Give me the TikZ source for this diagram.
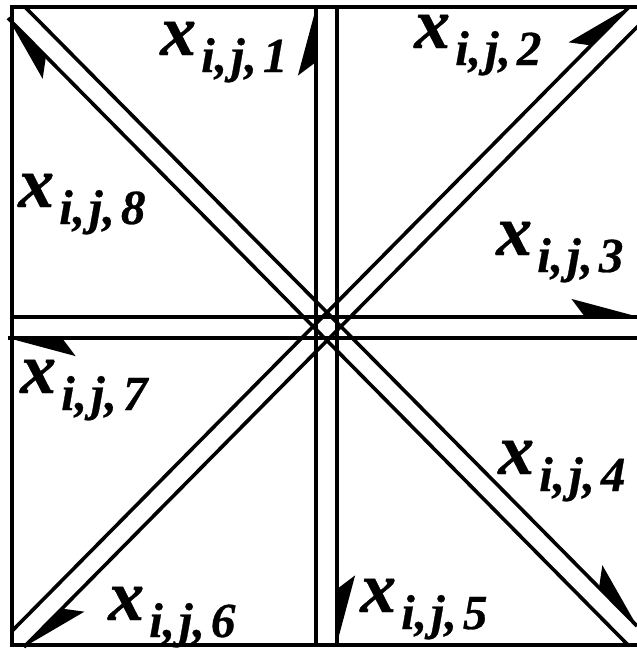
\documentclass[tikz,border=0pt]{standalone}
\usepackage{fontspec}
\setmainfont{Liberation Serif}
\newfontface\labfont{Liberation Serif Bold Italic}[FakeBold=0.6]
\usetikzlibrary{calc}
\tikzset{lane/.style={line width=3.6pt}}
\tikzset{frame/.style={line width=4pt}}
\tikzset{flowlabel/.style={anchor=base west,inner sep=0pt,text height=30pt,text depth=28pt}}
\newcommand{\flowx}[1]{\labfont{\fontsize{72}{72}\selectfont x}\hspace{5pt}{\fontsize{49}{49}\selectfont\raisebox{-17pt}{i,\hspace{4pt}j,\hspace{6pt}#1}}}
\newcommand{\halfhead}[2]{\fill (#1) -- ($(#1)!70pt!-15:(#2)$) -- ($(#1)!54pt!(#2)$) -- cycle;}

\begin{document}
\begin{tikzpicture}[x=1pt, y=-1pt]
            \useasboundingbox (0,0) rectangle (637,649);
            % frame
            \coordinate (nw) at (12,7);
            \coordinate (se) at (642,645);
            \draw[frame] (nw) rectangle (se);
            % lane ends (start s, arrow end e)
            \coordinate (v1s) at (316,645); \coordinate (v1e) at (316,8);
            \coordinate (v2s) at (337,7);   \coordinate (v2e) at (337,643);
            \coordinate (h1s) at (12,317);  \coordinate (h1e) at (639,317);
            \coordinate (h2s) at (642,338); \coordinate (h2e) at (8,338);
            \coordinate (d1s) at (25,7);    \coordinate (d1e) at (637,626);
            \coordinate (d2s) at (628,645); \coordinate (d2e) at (8,18);
            \coordinate (d3s) at (12,631);  \coordinate (d3e) at (629,7);
            \coordinate (d4s) at (642,22);  \coordinate (d4e) at (24,647);
            \foreach \l in {v1,v2,h1,h2,d1,d2,d3,d4}{
                \draw[lane] (\l s) -- (\l e);
                \halfhead{\l e}{\l s}
            }
            % labels
            \node[flowlabel] (x1) at (160,55)  {\flowx{1}};
            \node[flowlabel] (x2) at (414,48)  {\flowx{2}};
            \node[flowlabel] (x3) at (496,255) {\flowx{3}};
            \node[flowlabel] (x4) at (498,474) {\flowx{4}};
            \node[flowlabel] (x5) at (360,612) {\flowx{5}};
            \node[flowlabel] (x6) at (108,620) {\flowx{6}};
            \node[flowlabel] (x7) at (20,393)  {\flowx{7}};
            \node[flowlabel] (x8) at (18,207)  {\flowx{8}};
        \end{tikzpicture}
\end{document}
